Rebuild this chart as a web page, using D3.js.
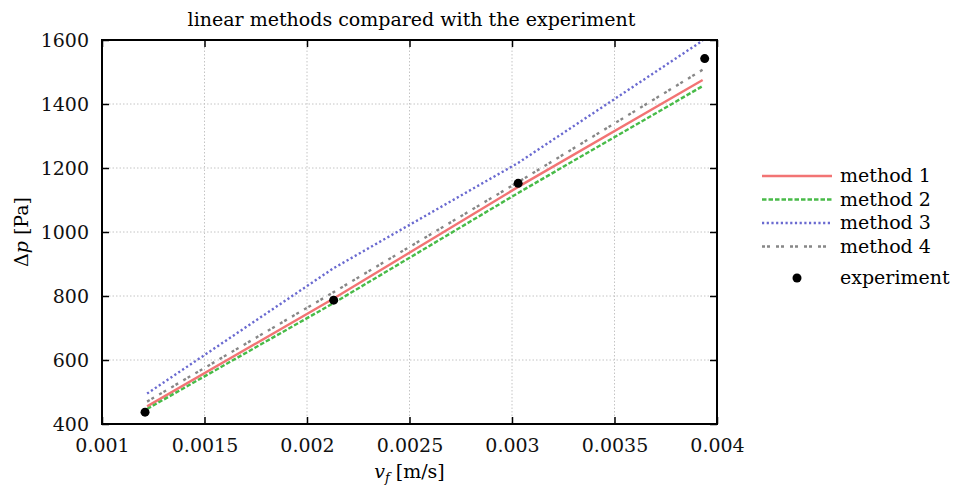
<!DOCTYPE html>
<html>
<head>
<meta charset="utf-8">
<script src="https://cdn.jsdelivr.net/npm/d3@7"></script>
<style>
  body { margin: 0; background: #fff; }
  text { font-family: "DejaVu Serif", "Liberation Serif", serif; }
</style>
</head>
<body>
<script>
// values
var velocity = [0.00122, 0.00213, 0.00303, 0.00393];
var method1 = [455, 792, 1141, 1475];
var method2 = [447, 778, 1122, 1456];
var method3 = [495, 887, 1216, 1598];
var method4 = [470, 812, 1156, 1507];
var expVelocity = [0.00121, 0.00213, 0.00303, 0.00394];
var experiment = [437, 787, 1152, 1542];
var xTicks = [0.001, 0.0015, 0.002, 0.0025, 0.003, 0.0035, 0.004];
var yTicks = [400, 600, 800, 1000, 1200, 1400, 1600];
var seriesNames = ['method 1', 'method 2', 'method 3', 'method 4'];

var width = 954, height = 487;
var plotLeft = 102, plotRight = 717, plotTop = 40, plotBottom = 424;
var fontSize = '19px';

var svg = d3.select('body').append('svg')
    .attr('width', width)
    .attr('height', height);

var x = d3.scaleLinear().domain([0.001, 0.004]).range([plotLeft, plotRight]);
var y = d3.scaleLinear().domain([400, 1600]).range([plotBottom, plotTop]);

// grid
svg.append('g').selectAll('line')
    .data(xTicks.slice(1, -1))
    .enter().append('line')
    .attr('x1', d => x(d)).attr('x2', d => x(d))
    .attr('y1', plotTop).attr('y2', plotBottom)
    .attr('stroke', '#c4c4c4').attr('stroke-dasharray', '1.5,2');
svg.append('g').selectAll('line')
    .data(yTicks.slice(1, -1))
    .enter().append('line')
    .attr('y1', d => y(d)).attr('y2', d => y(d))
    .attr('x1', plotLeft).attr('x2', plotRight)
    .attr('stroke', '#c4c4c4').attr('stroke-dasharray', '1.5,2');

// series
var series = [
    { name: seriesNames[0], values: method1, color: '#f27474', dash: null },
    { name: seriesNames[1], values: method2, color: '#48bb48', dash: '4.5,2' },
    { name: seriesNames[2], values: method3, color: '#6a6ad0', dash: '2.2,2.5' },
    { name: seriesNames[3], values: method4, color: '#878787', dash: '3,2,3,6' }
];

var line = d3.line()
    .x(function(d, i) { return x(velocity[i]); })
    .y(function(d) { return y(d); });

svg.append('g').selectAll('path')
    .data(series)
    .enter().append('path')
    .attr('d', d => line(d.values))
    .attr('fill', 'none')
    .attr('stroke', d => d.color)
    .attr('stroke-width', 2.4)
    .attr('stroke-dasharray', d => d.dash);

svg.append('g').selectAll('circle')
    .data(experiment)
    .enter().append('circle')
    .attr('cx', function(d, i) { return x(expVelocity[i]); })
    .attr('cy', d => y(d))
    .attr('r', 4.5)
    .attr('fill', '#000');

// axes with inward ticks on all four sides
svg.append('g')
    .attr('transform', 'translate(0,' + plotBottom + ')')
    .call(d3.axisBottom(x).tickValues(xTicks).tickFormat(d3.format('')).tickSizeInner(-7).tickSizeOuter(0).tickPadding(15))
    .call(g => g.select('.domain').remove());
svg.append('g')
    .attr('transform', 'translate(0,' + plotTop + ')')
    .call(d3.axisTop(x).tickValues(xTicks).tickFormat('').tickSizeInner(-7).tickSizeOuter(0))
    .call(g => g.select('.domain').remove());
svg.append('g')
    .attr('transform', 'translate(' + plotLeft + ',0)')
    .call(d3.axisLeft(y).tickValues(yTicks).tickFormat(d3.format('d')).tickSizeInner(-7).tickSizeOuter(0).tickPadding(13))
    .call(g => g.select('.domain').remove());
svg.append('g')
    .attr('transform', 'translate(' + plotRight + ',0)')
    .call(d3.axisRight(y).tickValues(yTicks).tickFormat('').tickSizeInner(-7).tickSizeOuter(0))
    .call(g => g.select('.domain').remove());

svg.selectAll('.tick line').attr('stroke', '#000').attr('stroke-width', 1.5);
svg.selectAll('.tick text')
    .style('font-family', '"DejaVu Serif", serif')
    .style('font-size', fontSize)
    .attr('fill', '#111');

svg.append('rect')
    .attr('x', plotLeft).attr('y', plotTop)
    .attr('width', plotRight - plotLeft).attr('height', plotBottom - plotTop)
    .attr('fill', 'none').attr('stroke', '#000').attr('stroke-width', 2);

// labels
svg.append('text')
    .attr('x', (plotLeft + plotRight) / 2 + 2).attr('y', 26)
    .attr('text-anchor', 'middle')
    .style('font-size', fontSize)
    .text('linear methods compared with the experiment');

var xl = svg.append('text')
    .attr('x', (plotLeft + plotRight) / 2).attr('y', 478)
    .attr('text-anchor', 'middle')
    .style('font-size', fontSize);
xl.append('tspan').style('font-style', 'italic').text('v');
xl.append('tspan').style('font-style', 'italic').style('font-size', '13px').attr('dy', 4).text('f');
xl.append('tspan').attr('dy', -4).text(' [m/s]');

var yl = svg.append('text')
    .attr('transform', 'translate(28,' + ((plotTop + plotBottom) / 2) + ') rotate(-90)')
    .attr('text-anchor', 'middle')
    .style('font-size', fontSize);
yl.append('tspan').text('Δ');
yl.append('tspan').style('font-style', 'italic').text('p');
yl.append('tspan').text(' [Pa]');

// legend
var legend = svg.append('g').attr('transform', 'translate(762,176)');
var rows = legend.selectAll('g')
    .data(series)
    .enter().append('g')
    .attr('transform', function(d, i) { return 'translate(0,' + (i * 23.5) + ')'; });
rows.append('line')
    .attr('x1', 0).attr('x2', 70)
    .attr('stroke', d => d.color)
    .attr('stroke-width', 2.4)
    .attr('stroke-dasharray', d => d.dash);
rows.append('text')
    .attr('x', 78).attr('y', 6)
    .style('font-size', fontSize)
    .text(d => d.name);
legend.append('circle')
    .attr('cx', 35).attr('cy', 102).attr('r', 4.5).attr('fill', '#000');
legend.append('text')
    .attr('x', 78).attr('y', 108)
    .style('font-size', fontSize)
    .text('experiment');
</script>
</body>
</html>
